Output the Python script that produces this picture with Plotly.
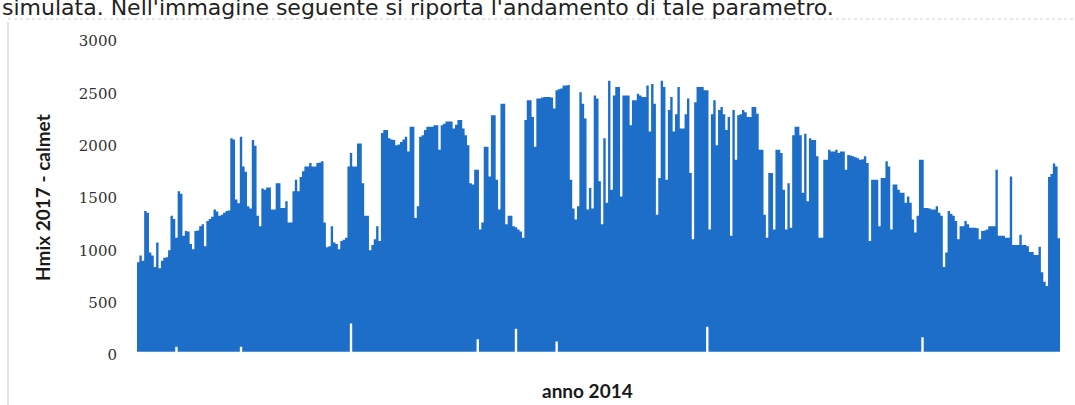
import plotly.graph_objects as go
import numpy as np

# Daily (sampled) maximum of the mixing height, read left to right
hmix_max = [
    885, 950, 900, 1375, 1360, 980, 950, 840, 1075, 830,
    900, 930, 935, 1000, 1330, 1300, 1120, 1565, 1540, 1140,
    1185, 1180, 1060, 1010, 1185, 1190, 1230, 1250, 1040, 1280,
    1300, 1320, 1390, 1370, 1330, 1340, 1360, 1375, 1380, 2070,
    2060, 1485, 1450, 2085, 1800, 1750, 1420, 1400, 2055, 2000,
    1330, 1230,
    1590, 1580, 1600, 1600, 1390, 1390, 1640, 1640, 1405, 1405,
    1470, 1265, 1265, 1565, 1675, 1565, 1700, 1755, 1800, 1800,
    1835, 1800, 1800, 1835, 1840, 1850, 1265, 1030, 1040, 1230,
    1075, 1060, 1010, 1090, 1100, 1120, 1800, 1930, 1800, 1800,
    2020, 2020, 1640, 1330, 1330, 1000, 1050, 1105, 1230, 1090,
    2120, 2150,
    2150, 2070, 2060, 2055, 2005, 2010, 2035, 2060, 2085, 1945,
    2180, 2180, 1310, 1420, 2085, 2100, 2150, 2180, 2180, 2180,
    2195, 2195, 1960, 2195, 2210, 2230, 2230, 2230, 2165, 2200,
    2245, 2245, 2165, 2100, 2005, 1640, 1630, 1770, 1770, 1200,
    1265, 1990, 1990, 1705, 2290, 2290, 1675, 1390, 2400, 2400,
    1250, 1330, 1330,
    1230, 1220, 1200, 1180, 1120, 2245, 2435, 2435, 2275, 1990,
    2450, 2450, 2460, 2465, 2465, 2465, 2460, 2355, 2530, 2540,
    2545, 2575, 2575, 2580, 1675, 1400, 1295, 1420, 2510, 2400,
    2260, 1390, 1595, 1400, 2480, 2450, 1660, 1250, 2070, 1455,
    2620, 1580, 2480, 2560, 2560, 1515, 2480, 2480, 2480, 2195,
    2435, 2435,
    2495, 2480, 2465, 2465, 2575, 2135, 2590, 2400, 1340, 1690,
    2620, 2560, 1675, 2340, 2465, 2135, 2300, 2560, 2165, 2165,
    2300, 2450, 1740, 1105, 2415, 2560, 2560, 2560, 2530, 2530,
    1200, 2300, 2435, 2005, 2340, 2370, 2300, 2150, 2275, 1140,
    2340, 1865, 2290, 2300, 2340, 2320, 2275, 2275, 2370, 2370,
    2305, 1960,
    1960, 1340, 1120, 1740, 1740, 1200, 1960, 1960, 1930, 1580,
    1200, 1640, 1215, 2100, 2180, 2180, 2100, 1550, 2115, 1470,
    2070, 2055, 2055, 1900, 1120, 1120, 1865, 1865, 1960, 1945,
    1945, 1960, 1930, 1945, 1945, 1770, 1910, 1905, 1900, 1890,
    1880, 1865, 1870, 1900, 1835, 1090, 1675, 1675, 1675, 1230,
    1690, 1690, 1850,
    1800, 1200, 1630, 1630, 1580, 1550, 1550, 1455, 1515, 1455,
    1295, 1170, 1330, 1865, 1865, 1405, 1405, 1400, 1390, 1390,
    1420, 1360, 1330, 840, 980, 1375, 1350, 1330, 1280, 1105,
    1230, 1230, 1280, 1250, 1215, 1215, 1215, 1210, 1105, 1185,
    1190, 1200, 1230, 1230, 1230, 1770, 1140, 1140, 1140, 1120,
    1120,
    1705, 1050, 1050, 1050, 1150, 1050, 1050, 1040, 985, 985,
    955, 955, 1035, 790, 700, 660, 1700, 1730, 1830, 1800,
    1115,
]

# Night-time floor of the series (typical value, and the few periods where it rises)
hmix_min_default = 30
hmix_min_peaks = {16: 80, 43: 80, 89: 300, 142: 150, 158: 250, 175: 130, 238: 270, 328: 170}

y_ticks = [0, 500, 1000, 1500, 2000, 2500, 3000]
y_title = "Hmix 2017 - calmet"
x_title = "anno 2014"
top_text = "simulata. Nell'immagine seguente si riporta l'andamento di tale parametro."

n = len(hmix_max)
hmix_min = [hmix_min_peaks.get(i, hmix_min_default) for i in range(n)]
x_edges = np.arange(n + 1)
y_top = hmix_max + [hmix_max[-1]]
y_bot = hmix_min + [hmix_min[-1]]

BLUE = "#1D6EC8"

fig = go.Figure()
fig.add_trace(go.Scatter(x=x_edges, y=y_bot, mode="lines", line=dict(width=0, shape="hv"),
                         hoverinfo="skip", showlegend=False))
fig.add_trace(go.Scatter(x=x_edges, y=y_top, mode="lines", line=dict(width=0, shape="hv", color=BLUE),
                         fill="tonexty", fillcolor=BLUE, showlegend=False))

W, H = 1075, 405
L, R, T, B = 137, 15, 41, 50
pw, ph = W - L - R, H - T - B

def px_x(p):
    return (p - L) / pw

def px_y(p):
    return 1 - (p - T) / ph

fig.update_layout(
    width=W, height=H,
    margin=dict(l=L, r=R, t=T, b=B, pad=0),
    paper_bgcolor="white", plot_bgcolor="white",
    showlegend=False,
    xaxis=dict(range=[0, n], showticklabels=False, showgrid=False, zeroline=False,
               showline=False, ticks=""),
    yaxis=dict(range=[0, 3000], tickvals=y_ticks, showgrid=False, zeroline=False,
               showline=False, ticks="", ticklabelstandoff=19,
               tickfont=dict(family="DejaVu Serif", size=15, color="#333333")),
    annotations=[
        dict(text=y_title, xref="paper", yref="paper", x=px_x(42), y=px_y(198),
             textangle=-90, showarrow=False, xanchor="center", yanchor="middle",
             font=dict(family="Lato", size=19, color="#1a1a1a", weight="bold")),
        dict(text=x_title, xref="paper", yref="paper", x=px_x(587), y=px_y(390),
             showarrow=False, xanchor="center", yanchor="middle",
             font=dict(family="Lato", size=19, color="#1a1a1a", weight="bold")),
        dict(text=top_text, xref="paper", yref="paper", x=px_x(0), y=px_y(7),
             showarrow=False, xanchor="left", yanchor="middle",
             font=dict(family="DejaVu Sans", size=22, color="#222222")),
    ],
    shapes=[
        dict(type="line", xref="paper", yref="paper", x0=px_x(8), x1=px_x(8),
             y0=px_y(22), y1=px_y(405), line=dict(color="#c8c8c8", width=1)),
        dict(type="line", xref="paper", yref="paper", x0=px_x(8), x1=px_x(1075),
             y0=px_y(19), y1=px_y(19), line=dict(color="#d0d0d0", width=1, dash="dot")),
    ],
)

fig.write_html("out.html")
